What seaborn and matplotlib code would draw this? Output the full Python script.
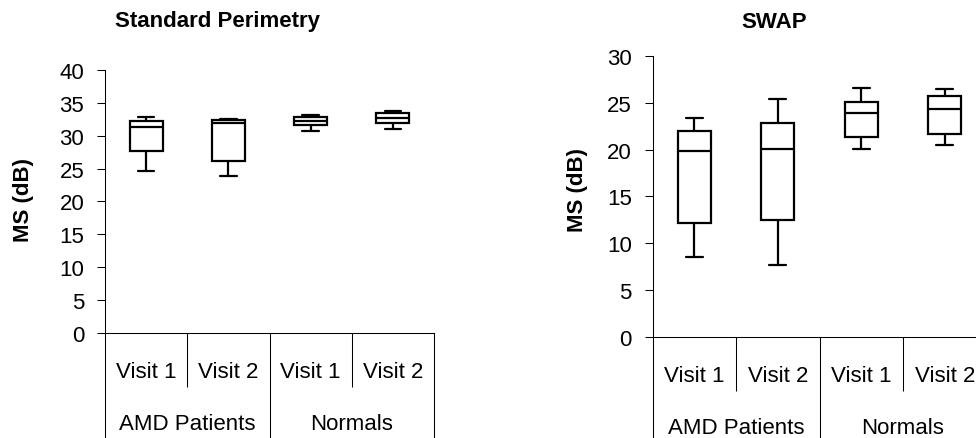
import numpy as np
import pandas as pd
import matplotlib
matplotlib.use("Agg")
import matplotlib.pyplot as plt
import matplotlib.transforms as mtransforms
import seaborn as sns

# ---- data (five-number summaries) ----
categories = ["AMD Visit 1", "AMD Visit 2", "Normals Visit 1", "Normals Visit 2"]
visit_labels = ["Visit 1", "Visit 2", "Visit 1", "Visit 2"]
group_labels = ["AMD Patients", "Normals"]

std_low = [24.6, 23.9, 30.7, 31.0]
std_q1 = [27.6, 26.1, 31.6, 31.9]
std_med = [31.3, 31.9, 32.2, 32.6]
std_q3 = [32.2, 32.4, 32.8, 33.4]
std_high = [32.8, 32.5, 33.1, 33.7]

swap_low = [8.5, 7.65, 20.05, 20.45]
swap_q1 = [12.2, 12.5, 21.3, 21.7]
swap_med = [19.8, 20.05, 23.9, 24.3]
swap_q3 = [22.0, 22.8, 25.1, 25.7]
swap_high = [23.4, 25.35, 26.6, 26.45]

std_ticks = [0, 5, 10, 15, 20, 25, 30, 35, 40]
swap_ticks = [0, 5, 10, 15, 20, 25, 30]


def make_frame(low, q1, med, q3, high):
    rows = []
    for i, cat in enumerate(categories):
        for v in (low[i], q1[i], med[i], q3[i], high[i]):
            rows.append({"cat": cat, "ms": v})
    return pd.DataFrame(rows)


df_std = make_frame(std_low, std_q1, std_med, std_q3, std_high)
df_swap = make_frame(swap_low, swap_q1, swap_med, swap_q3, swap_high)

sns.set_style("white")
plt.rcParams["font.family"] = ["Liberation Sans", "DejaVu Sans"]
plt.rcParams["text.color"] = "black"
plt.rcParams["axes.labelcolor"] = "black"

W, H = 976, 439
fig = plt.figure(figsize=(W / 100, H / 100), dpi=100)


def px_axes(x0, x1, ytop, ybot):
    return fig.add_axes([x0 / W, 1 - ybot / H, (x1 - x0) / W, (ybot - ytop) / H])


ax1 = px_axes(105, 434, 70.7, 334.2)
ax2 = px_axes(652.5, 986.5, 56.7, 338.2)


def draw_panel(ax, df, ymax, ticks, axis_y_px):
    sns.boxplot(data=df, x="cat", y="ms", order=categories, ax=ax,
                color="white", linecolor="black", linewidth=1.6,
                width=0.4, whis=(0, 100), showfliers=False)
    ax.set_xlim(-0.5, 3.5)
    ax.set_ylim(0, ymax)
    ax.set_yticks(ticks)
    ax.set_xticks([])
    ax.set_xlabel("")
    ax.set_ylabel("")
    ax.tick_params(axis="y", direction="out", length=6, width=0.75,
                   pad=9, labelsize=16, colors="black", left=True)
    for s in ("top", "right"):
        ax.spines[s].set_visible(False)
    for s in ("left", "bottom"):
        ax.spines[s].set_linewidth(0.75)
        ax.spines[s].set_color("black")

    ax_h_px = ax.get_position().height * H
    short = -54 / ax_h_px
    full = -(H - axis_y_px + 5) / ax_h_px
    xt = ax.get_xaxis_transform()
    # table separators
    for xb, yb in ((-0.5, full), (0.5, short), (1.5, full), (2.5, short), (3.5, full)):
        ax.plot([xb, xb], [0, yb], transform=xt, color="black",
                lw=0.75, clip_on=False, solid_capstyle="butt")
    # visit labels
    tr_v = mtransforms.offset_copy(xt, fig=fig, y=-43.5, units="dots")
    for i, lab in enumerate(visit_labels):
        ax.text(i, 0, lab, transform=tr_v, ha="center", va="baseline",
                fontsize=16, color="black")
    tr_g = mtransforms.offset_copy(xt, fig=fig, y=-96, units="dots")
    for j, lab in enumerate(group_labels):
        ax.text(0.5 + 2 * j, 0, lab, transform=tr_g, ha="center",
                va="baseline", fontsize=16, color="black")


draw_panel(ax1, df_std, 40, std_ticks, 334.2)
draw_panel(ax2, df_swap, 30, swap_ticks, 338.2)

fig.text(217.5 / W, 1 - 22 / H, "Standard Perimetry", ha="center", va="center",
         fontsize=16, fontweight="bold", color="black")
fig.text(774 / W, 1 - 22.5 / H, "SWAP", ha="center", va="center",
         fontsize=16, fontweight="bold", color="black")
fig.text(23 / W, 1 - 200 / H, "MS (dB)", ha="center", va="center",
         rotation=90, fontsize=16, fontweight="bold", color="black")
fig.text(577 / W, 1 - 190 / H, "MS (dB)", ha="center", va="center",
         rotation=90, fontsize=16, fontweight="bold", color="black")

fig.savefig("out.png", dpi=100, facecolor="white")
